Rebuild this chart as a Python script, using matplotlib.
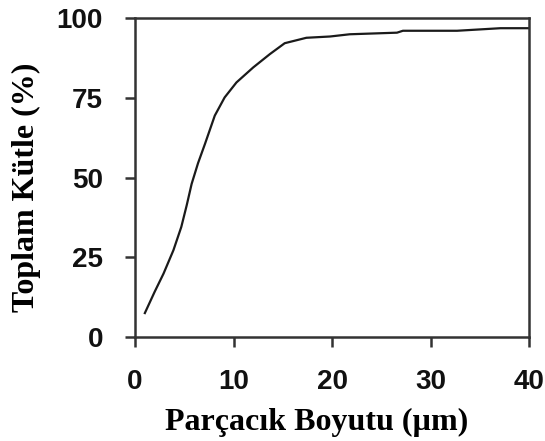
import matplotlib
matplotlib.use("Agg")
import matplotlib.pyplot as plt

# Data
size_um = [1.0, 2.0, 2.9, 3.9, 4.7, 5.25, 5.75, 6.4, 7.1, 8.1, 9.1, 10.3, 12.0, 13.7, 15.2, 17.4, 19.8, 21.8, 26.6, 27.2, 32.7, 37.1, 40.0]
total_mass = [7.5, 14.2, 19.9, 27.2, 34.5, 41.3, 48.0, 54.5, 60.5, 69.4, 75.1, 79.8, 84.5, 88.7, 92.1, 93.8, 94.2, 94.9, 95.4, 96.0, 96.0, 96.8, 96.8]

x_ticks = [0, 10, 20, 30, 40]
y_ticks = [0, 25, 50, 75, 100]
x_label = "Parçacık Boyutu (µm)"
y_label = "Toplam Kütle (%)"

fig = plt.figure(figsize=(5.45, 4.41), dpi=100)
ax = fig.add_axes([135/545, 1-337/441, (529-135)/545, (337-18)/441])

ax.plot(size_um, total_mass, color="#1a1a1a", lw=1.6)
ax.set_xlim(0, 40)
ax.set_ylim(0, 100)
ax.set_xticks(x_ticks)
ax.set_yticks(y_ticks)

for s in ax.spines.values():
    s.set_linewidth(1.8)
    s.set_color("#333333")
ax.tick_params(direction="out", length=7, width=1.8, color="#333333")
ax.tick_params(axis="y", pad=16)
ax.tick_params(axis="x", pad=16)
for lab in ax.get_xticklabels() + ax.get_yticklabels():
    lab.set_family(["Liberation Sans", "DejaVu Sans"])
    lab.set_fontweight("bold")
    lab.set_fontsize(20)
    lab.set_color("#111111")

serif = ["Liberation Serif", "DejaVu Serif"]
fig.text(317/545, 1-430/441, x_label, family=serif, fontweight="bold", fontsize=23,
         ha="center", va="baseline")
fig.text(26/545, 1-187/441, y_label, family=serif, fontweight="bold", fontsize=23,
         ha="center", va="center", rotation=90)

fig.savefig("out.png", dpi=100, facecolor="white")
